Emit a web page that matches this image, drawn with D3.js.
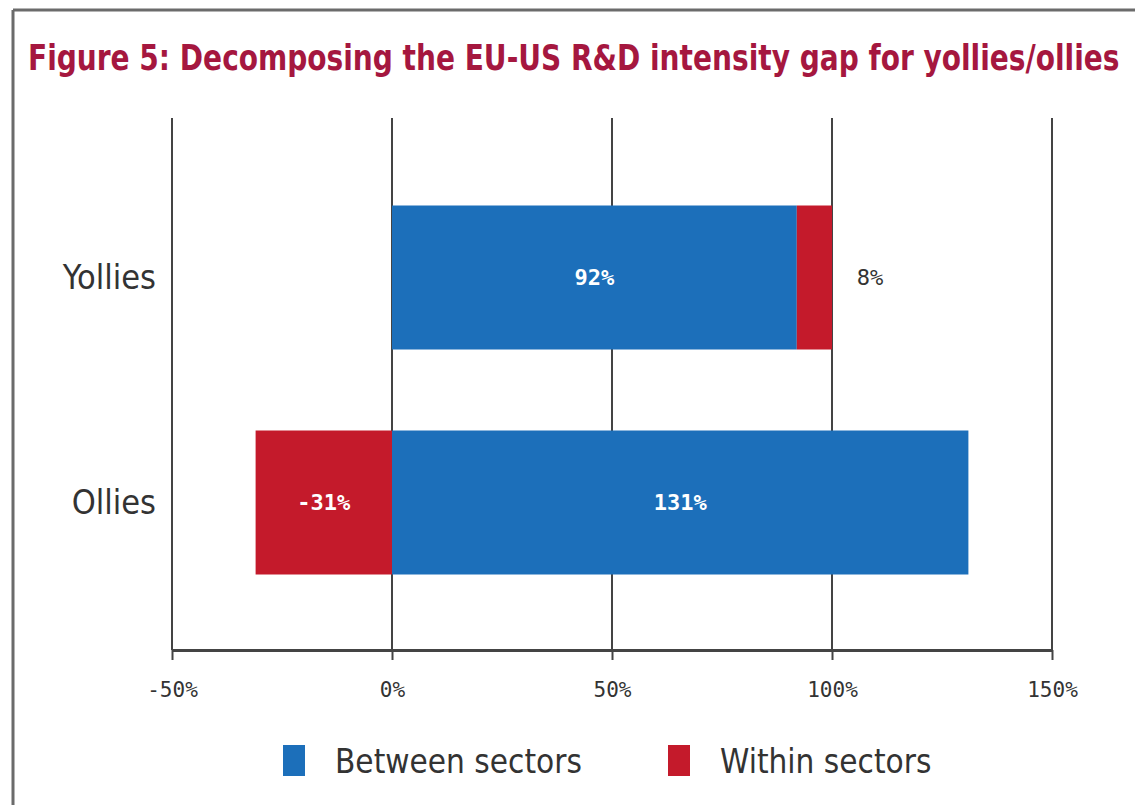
<!DOCTYPE html>
<html>
<head>
<meta charset="utf-8">
<script src="https://cdn.jsdelivr.net/npm/d3@7"></script>
<style>
  body { margin: 0; background: #fff; }
  svg { display: block; }
</style>
</head>
<body>
<svg id="chart" width="1135" height="805"></svg>
<script>
let categories = ["Yollies", "Ollies"];
let betweenValues = [92, 131];
let withinValues = [8, -31];
let tickValues = [-50, 0, 50, 100, 150];
let seriesNames = ["Between sectors", "Within sectors"];
let seriesColors = ["#1c6fba", "#c41a2b"];

let width = 1135, height = 805;
let svg = d3.select("#chart");

// frame
svg.append("line")
    .attr("x1", 13).attr("x2", width)
    .attr("y1", 10).attr("y2", 10)
    .attr("stroke", "#6b6b6b").attr("stroke-width", 3);
svg.append("line")
    .attr("x1", 13).attr("x2", 13)
    .attr("y1", 10).attr("y2", height)
    .attr("stroke", "#6b6b6b").attr("stroke-width", 3);

// title, squeezed horizontally to fit like the condensed original
let title = svg.append("text")
    .style("font-family", "'DejaVu Sans Condensed', 'Liberation Sans Narrow', sans-serif")
    .style("font-weight", "bold")
    .style("font-size", "36px")
    .style("fill", "#a5173f")
    .text("Figure 5: Decomposing the EU-US R&D intensity gap for yollies/ollies");
let titleLen = title.node().getComputedTextLength();
let squeeze = Math.min(1, 1092 / titleLen);
title.attr("transform", "translate(28, 70) scale(" + squeeze + ", 1)");

let xScale = d3.scaleLinear()
    .domain([-50, 150])
    .range([172, 1052]);

let yScale = d3.scaleBand()
    .domain(categories)
    .range([120, 660])
    .paddingInner(0.36)
    .paddingOuter(0.38);

// gridlines
svg.selectAll(".grid")
    .data(tickValues)
    .enter()
    .append("line")
    .attr("class", "grid")
    .attr("x1", d => xScale(d)).attr("x2", d => xScale(d))
    .attr("y1", 118).attr("y2", 650)
    .attr("stroke", "#444").attr("stroke-width", 2);

// stacked segments: between from 0, within stacked after positive / before 0 when negative
let segments = [];
categories.forEach(function(cat, i) {
    segments.push({cat: cat, s: 0, x0: 0, x1: betweenValues[i], v: betweenValues[i]});
    let w = withinValues[i];
    if (w >= 0) {
        segments.push({cat: cat, s: 1, x0: betweenValues[i], x1: betweenValues[i] + w, v: w});
    } else {
        segments.push({cat: cat, s: 1, x0: w, x1: 0, v: w});
    }
});

svg.selectAll(".bar")
    .data(segments)
    .enter()
    .append("rect")
    .attr("class", "bar")
    .attr("x", d => xScale(Math.min(d.x0, d.x1)))
    .attr("width", d => Math.abs(xScale(d.x1) - xScale(d.x0)))
    .attr("y", d => yScale(d.cat))
    .attr("height", yScale.bandwidth())
    .attr("fill", d => seriesColors[d.s]);

function isWide(d) {
    return Math.abs(xScale(d.x1) - xScale(d.x0)) > 60;
}

// bar labels
svg.selectAll(".barLabel")
    .data(segments)
    .enter()
    .append("text")
    .attr("class", "barLabel")
    .attr("x", d => isWide(d) ? (xScale(d.x0) + xScale(d.x1)) / 2 : xScale(d.x1) + 38)
    .attr("y", d => yScale(d.cat) + yScale.bandwidth() / 2)
    .attr("dy", "0.35em")
    .attr("text-anchor", "middle")
    .style("font-family", "'DejaVu Sans Mono', monospace")
    .style("font-weight", d => isWide(d) ? "bold" : "normal")
    .style("font-size", "22px")
    .style("fill", d => isWide(d) ? "#fff" : "#333")
    .text(d => d.v + "%");

// x axis
let xAxis = svg.append("g")
    .attr("class", "x_axis")
    .attr("transform", "translate(0, 650)")
    .call(d3.axisBottom(xScale)
        .tickValues(tickValues)
        .tickSize(10)
        .tickSizeOuter(0)
        .tickPadding(22)
        .tickFormat(d => d + "%"));
xAxis.select(".domain")
    .attr("stroke", "#444").attr("stroke-width", 3);
xAxis.selectAll(".tick line")
    .attr("stroke", "#444").attr("stroke-width", 2);
xAxis.selectAll("text")
    .style("font-family", "'DejaVu Sans Mono', monospace")
    .style("font-size", "21px")
    .style("fill", "#333");

// category labels
svg.selectAll(".catLabel")
    .data(categories)
    .enter()
    .append("text")
    .attr("class", "catLabel")
    .attr("x", 156)
    .attr("y", d => yScale(d) + yScale.bandwidth() / 2)
    .attr("dy", "0.35em")
    .attr("text-anchor", "end")
    .style("font-family", "'DejaVu Sans Condensed', 'Liberation Sans Narrow', sans-serif")
    .style("font-size", "34px")
    .style("fill", "#333")
    .text(d => d);

// legend
let legendX = [283, 668];
let legend = svg.selectAll(".legend")
    .data(seriesNames)
    .enter()
    .append("g")
    .attr("class", "legend")
    .attr("transform", (d, i) => "translate(" + legendX[i] + ", 745)");
legend.append("rect")
    .attr("width", 22).attr("height", 31)
    .attr("fill", (d, i) => seriesColors[i]);
legend.append("text")
    .attr("x", 52).attr("y", 16)
    .attr("dy", "0.35em")
    .style("font-family", "'DejaVu Sans Condensed', 'Liberation Sans Narrow', sans-serif")
    .style("font-size", "33px")
    .style("fill", "#333")
    .text(d => d);
</script>
</body>
</html>
